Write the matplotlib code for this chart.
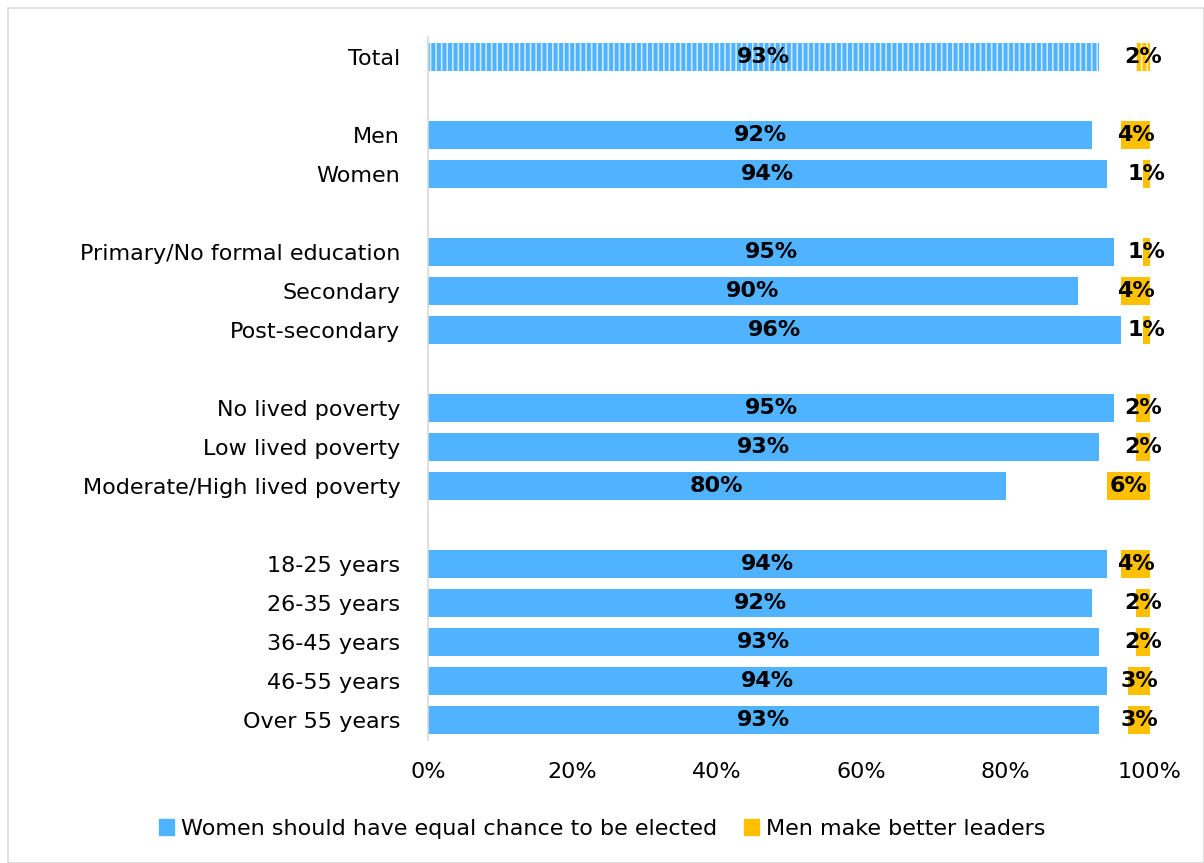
import matplotlib
matplotlib.use("Agg")
import matplotlib.pyplot as plt
from matplotlib.patches import Rectangle

categories = ["Total", "Men", "Women", "Primary/No formal education", "Secondary",
              "Post-secondary", "No lived poverty", "Low lived poverty",
              "Moderate/High lived poverty", "18-25 years", "26-35 years",
              "36-45 years", "46-55 years", "Over 55 years"]
equal_chance = [93, 92, 94, 95, 90, 96, 95, 93, 80, 94, 92, 93, 94, 93]
men_better = [2, 4, 1, 1, 4, 1, 2, 2, 6, 4, 2, 2, 3, 3]
slots = [0, 2, 3, 5, 6, 7, 9, 10, 11, 13, 14, 15, 16, 17]
xticks = [0, 20, 40, 60, 80, 100]
series_names = ["Women should have equal chance to be elected", "Men make better leaders"]

BLUE = "#4FB3FF"
ORANGE = "#FFC000"
FONT = "DejaVu Sans"
FS = 16
plt.rcParams['font.family'] = [FONT]
plt.rcParams['hatch.linewidth'] = 1.2

fig = plt.figure(figsize=(12.04, 8.63), dpi=100)
fig.patches.append(Rectangle((8/1204, 0), 1 - 8/1204, 1 - 8/863, transform=fig.transFigure,
                             fill=False, edgecolor="#d9d9d9", linewidth=1.2))
ax = fig.add_axes([428/1204, 1 - 739.5/863, 722/1204, (739.5 - 37.5)/863])

h = 0.7
for i, (c, v, m, s) in enumerate(zip(categories, equal_chance, men_better, slots)):
    if i == 0:
        ax.barh(s, v, height=h, color=BLUE, edgecolor="#cfe9ff", hatch="|||", linewidth=0)
        ax.barh(s, m, left=100 - m, height=h, color=ORANGE, edgecolor="#fff0b8", hatch="|||", linewidth=0)
    else:
        ax.barh(s, v, height=h, color=BLUE, linewidth=0)
        ax.barh(s, m, left=100 - m, height=h, color=ORANGE, linewidth=0)
    ax.text(v / 2, s, f"{v}%", ha="center", va="center", fontsize=FS, fontweight="bold", color="black")
    ax.text(100 - m / 2, s, f"{m}%", ha="center", va="center", fontsize=FS, fontweight="bold", color="black")

ax.set_ylim(17.5, -0.5)
ax.set_xlim(0, 100)
ax.set_yticks(slots)
ax.set_yticklabels(categories, fontsize=FS)
ax.set_xticks(xticks)
ax.set_xticklabels([f"{t}%" for t in xticks], fontsize=FS)
ax.tick_params(axis="both", length=0, colors="#000000")
ax.tick_params(axis="y", pad=20)
ax.tick_params(axis="x", pad=16)
for sp in ["top", "right", "bottom"]:
    ax.spines[sp].set_visible(False)
ax.spines["left"].set_color("#d9d9d9")
ax.spines["left"].set_linewidth(1.2)

handles = [Rectangle((0, 0), 1, 1, color=BLUE), Rectangle((0, 0), 1, 1, color=ORANGE)]
fig.legend(handles, series_names, loc="center", bbox_to_anchor=(0.5, 1 - 829/863), ncol=2,
           frameon=False, fontsize=FS, handlelength=0.7, handleheight=0.7,
           handletextpad=0.3, columnspacing=1.2)

fig.savefig("out.png", dpi=100)
